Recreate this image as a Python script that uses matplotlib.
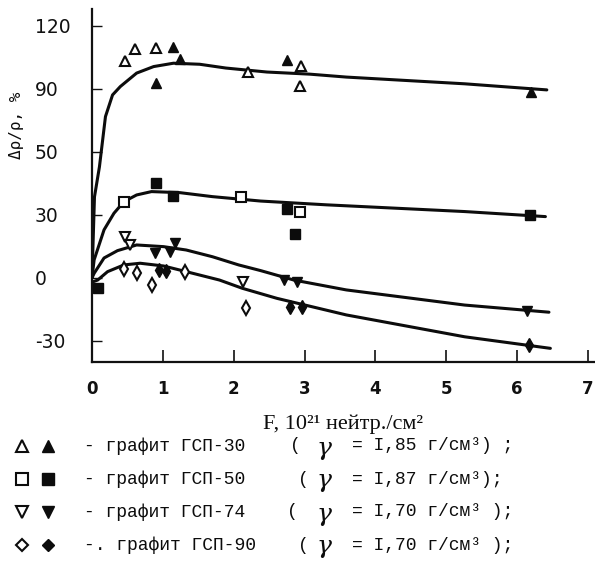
import matplotlib
matplotlib.use("Agg")
import matplotlib.pyplot as plt

# ── Data ───────────────────────────────────────────────────────────
# fitted curves (fluence F, change of resistivity %)
curve30_x = [0.0, 0.035, 0.105, 0.19, 0.29, 0.40, 0.63, 0.87, 1.15, 1.52, 1.89, 2.47, 3.07, 3.59, 5.26, 6.42]
curve30_y = [0.0, 38.6, 52.9, 76.8, 87.1, 91.1, 97.5, 100.6, 102.2, 101.7, 99.9, 98.0, 97.0, 95.6, 92.4, 89.5]
curve50_x = [0.0, 0.03, 0.17, 0.31, 0.45, 0.63, 0.84, 1.24, 1.70, 2.38, 3.31, 5.26, 6.40]
curve50_y = [0.0, 8.6, 22.9, 30.8, 36.3, 39.5, 41.1, 40.6, 38.7, 36.6, 34.8, 31.6, 29.2]
curve74_x = [0.0, 0.03, 0.17, 0.36, 0.63, 1.01, 1.33, 1.70, 2.07, 2.38, 2.85, 3.59, 5.26, 6.45]
curve74_y = [0.0, 2.2, 9.5, 13.0, 15.7, 14.9, 13.3, 10.1, 6.2, 3.5, -1.0, -5.7, -12.9, -16.3]
curve90_x = [0.0, 0.08, 0.22, 0.45, 0.68, 1.01, 1.33, 1.80, 2.12, 2.61, 3.59, 5.26, 6.47]
curve90_y = [-2.0, -1.0, 3.0, 6.2, 7.0, 5.7, 3.0, -1.0, -4.9, -9.7, -17.6, -28.0, -33.5]

# measured points: open / filled markers
g30_open_x = [0.46, 0.61, 0.90, 2.20, 2.95, 2.94]
g30_open_y = [103.3, 109.0, 109.4, 98.2, 101.0, 91.4]
g30_fill_x = [1.14, 1.24, 0.91, 2.75, 6.19]
g30_fill_y = [109.9, 104.1, 92.7, 103.5, 88.4]

g50_open_x = [0.45, 2.10, 2.94]
g50_open_y = [36.3, 38.4, 31.6]
g50_fill_x = [0.08, 0.91, 1.15, 2.75, 2.87, 6.18]
g50_fill_y = [-4.8, 45.1, 39.0, 32.7, 21.0, 30.0]

g74_open_x = [0.47, 0.54, 2.13]
g74_open_y = [19.7, 15.7, -1.7]
g74_fill_x = [0.89, 1.10, 1.17, 2.71, 2.89, 6.14]
g74_fill_y = [11.8, 12.5, 16.5, -1.0, -1.8, -15.6]

g90_open_x = [0.45, 0.63, 0.84, 1.31, 2.17]
g90_open_y = [4.1, 2.5, -3.3, 3.0, -14.4]
g90_fill_x = [0.94, 1.05, 2.80, 2.96, 6.17]
g90_fill_y = [3.8, 3.5, -13.7, -13.7, -31.9]

xticks = [0, 1, 2, 3, 4, 5, 6, 7]
yticks = [120, 90, 60, 30, 0, -30]
ytick_labels = ["120", "90", "50", "30", "0", "-30"]

legend_names = ["- графит ГСП-30", "- графит ГСП-50", "- графит ГСП-74", "-. графит ГСП-90"]
legend_open = ["(", "(", "(", "("]
legend_dens = ["= I,85 г/см³) ;", "= I,87 г/см³);", "= I,70 г/см³ );", "= I,70 г/см³ );"]
legend_markers = ["^", "s", "v", "D"]

W, H = 595, 564
fig = plt.figure(figsize=(W / 100, H / 100), dpi=100, facecolor="white")

ax = fig.add_axes([92 / W, (H - 362) / H, (W - 92) / W, (362 - 9) / H])
ax.set_xlim(0, 7.1)
ax.set_ylim(-40, 128)
for s in ["top", "right"]:
    ax.spines[s].set_visible(False)
for s in ["left", "bottom"]:
    ax.spines[s].set_linewidth(1.6)
    ax.spines[s].set_color("#111111")

k = "#0c0c0c"
for cx, cy in [(curve30_x, curve30_y), (curve50_x, curve50_y),
               (curve74_x, curve74_y), (curve90_x, curve90_y)]:
    ax.plot(cx, cy, color=k, lw=2.2, solid_capstyle="round", zorder=2)

ms = 7
groups = [
    (g30_open_x, g30_open_y, g30_fill_x, g30_fill_y, "^"),
    (g50_open_x, g50_open_y, g50_fill_x, g50_fill_y, "s"),
    (g74_open_x, g74_open_y, g74_fill_x, g74_fill_y, "v"),
    (g90_open_x, g90_open_y, g90_fill_x, g90_fill_y, "d"),
]
for ox, oy, fx, fy, m in groups:
    ax.plot(ox, oy, m, ms=ms, mfc="white", mec=k, mew=1.5, ls="none", zorder=3)
    ax.plot(fx, fy, m, ms=ms, mfc=k, mec=k, mew=1.0, ls="none", zorder=3)

ax.set_xticks(xticks)
ax.set_xticklabels([str(v) for v in xticks], fontsize=12, fontweight="bold")
ax.set_yticks(yticks)
ax.set_yticklabels(ytick_labels, fontsize=13.5)
ax.tick_params(axis="x", direction="in", length=9, width=1.2, pad=13, colors="#111111")
ax.tick_params(axis="y", direction="in", length=7, width=1.0, pad=41, colors="#111111")
for lab in ax.get_yticklabels():
    lab.set_horizontalalignment("left")

# ── overlay in pixel coordinates for labels and legend ───────────
ov = fig.add_axes([0, 0, 1, 1], facecolor="none")
ov.set_xlim(0, W)
ov.set_ylim(H, 0)
ov.axis("off")

ov.text(17, 125, "Δρ/ρ, %", rotation=90, fontsize=11.5, family="DejaVu Sans Mono",
        ha="center", va="center", color=k)
ov.text(343, 424, "F, 10²¹ нейтр./см²", fontsize=16, family="Liberation Serif",
        ha="center", va="center", color=k)

row_y = [446, 479, 512, 545]
paren_x = [290, 298, 287, 298]
for i in range(4):
    y = row_y[i]
    m = legend_markers[i]
    msz = 8 if m != "D" else 6.5
    ov.plot([22], [y], m, ms=msz, mfc="white", mec=k, mew=1.5)
    ov.plot([48], [y], m, ms=msz, mfc=k, mec=k)
    ov.text(84, y, legend_names[i], fontsize=13, family="Liberation Mono",
            ha="left", va="center", color=k)
    ov.text(paren_x[i], y, legend_open[i], fontsize=13, family="Liberation Mono",
            ha="left", va="center", color=k)
    ov.text(324, y + 2, "γ", fontsize=18, family="DejaVu Serif", style="italic",
            ha="center", va="center", color=k)
    ov.text(352, y, legend_dens[i], fontsize=13, family="Liberation Mono",
            ha="left", va="center", color=k)

fig.savefig("out.png", dpi=100, facecolor="white")
